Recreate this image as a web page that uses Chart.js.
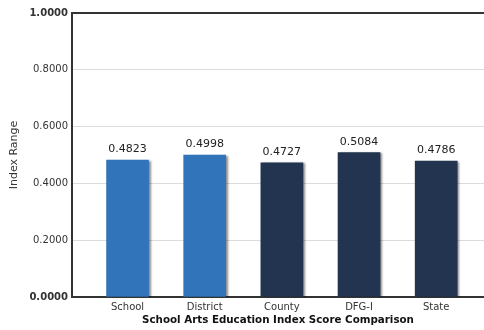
<!DOCTYPE html>
<html>
<head>
<meta charset="utf-8">
<script src="https://cdn.jsdelivr.net/npm/chart.js@4/dist/chart.umd.min.js"></script>
<style>
  html, body { margin: 0; padding: 0; background: #fff; }
  #wrap { width: 484px; height: 330px; }
</style>
</head>
<body>
<div id="wrap"><canvas id="chart"></canvas></div>
<script>
/* --- data ---------------------------------------------------------------- */
const categories = ['School', 'District', 'County', 'DFG-I', 'State'];
const scores = [0.4823, 0.4998, 0.4727, 0.5084, 0.4786];
const barColors = ['#3274ba', '#3274ba', '#22344f', '#22344f', '#22344f'];
const yTicks = [0, 0.2, 0.4, 0.6, 0.8, 1.0];

const FONT = "'DejaVu Sans', Verdana, sans-serif";

/* sombra de las barras */
const barShadow = {
    id: 'barShadow',
    beforeDatasetsDraw(chart) {
        const ctx = chart.ctx;
        ctx.save();
        ctx.shadowColor = 'rgba(0,0,0,0.45)';
        ctx.shadowOffsetX = 2;
        ctx.shadowOffsetY = 1;
        ctx.shadowBlur = 2;
    },
    afterDatasetsDraw(chart) {
        chart.ctx.restore();
    }
};

/* etiquetas de valor encima de cada barra */
const valueLabels = {
    id: 'valueLabels',
    afterDatasetsDraw(chart) {
        const ctx = chart.ctx;
        const meta = chart.getDatasetMeta(0);
        ctx.save();
        ctx.font = '11px ' + FONT;
        ctx.fillStyle = '#222';
        ctx.textAlign = 'center';
        ctx.textBaseline = 'bottom';
        meta.data.forEach((bar, i) => {
            ctx.fillText(scores[i].toFixed(4), bar.x, bar.y - 5);
        });
        ctx.restore();
    }
};

new Chart(document.getElementById('chart'), {
    type: 'bar',
    data: {
        datasets: [{
            data: scores.map((v, i) => ({ x: i, y: v })),
            backgroundColor: barColors,
            borderWidth: 0,
            barThickness: 42
        }]
    },
    options: {
        responsive: true,
        maintainAspectRatio: false,
        animation: false,
        layout: { padding: { top: 13, right: 0, left: 0, bottom: 0 } },
        plugins: {
            legend: { display: false },
            tooltip: { enabled: false }
        },
        scales: {
            x: {
                type: 'linear',
                offset: false,
                min: -0.72,
                max: 4.62,
                afterBuildTicks: s => { s.ticks = categories.map((c, i) => ({ value: i })); },
                afterFit: s => { s.height = 33; },
                grid: { display: false, drawTicks: false, offset: false },
                border: { display: true, color: '#333', width: 2 },
                ticks: {
                    callback: v => categories[v],
                    color: '#333',
                    padding: 4,
                    autoSkip: false,
                    maxRotation: 0,
                    font: { family: FONT, size: 10 }
                },
                title: {
                    display: true,
                    text: 'School Arts Education Index Score Comparison',
                    color: '#111',
                    padding: { top: 3, bottom: 3 },
                    font: { family: FONT, size: 10.3, weight: 'bold' }
                }
            },
            y: {
                min: 0,
                max: 1,
                afterBuildTicks: s => { s.ticks = yTicks.map(v => ({ value: v })); },
                afterFit: s => { s.width = 72; },
                grid: {
                    drawTicks: false,
                    color: c => c.tick.value === 1 ? '#333' : '#dcdcdc',
                    lineWidth: c => c.tick.value === 1 ? 2 : 1
                },
                border: { display: true, color: '#333', width: 2 },
                ticks: {
                    callback: v => v.toFixed(4),
                    color: '#333',
                    padding: 4,
                    font: c => ({
                        family: FONT,
                        size: 10,
                        weight: (c.tick && (c.tick.value === 0 || c.tick.value === 1)) ? 'bold' : 'normal'
                    })
                },
                title: {
                    display: true,
                    text: 'Index Range',
                    color: '#333',
                    padding: { top: 8, bottom: 0 },
                    font: { family: FONT, size: 11 }
                }
            }
        }
    },
    plugins: [barShadow, valueLabels]
});
</script>
</body>
</html>
